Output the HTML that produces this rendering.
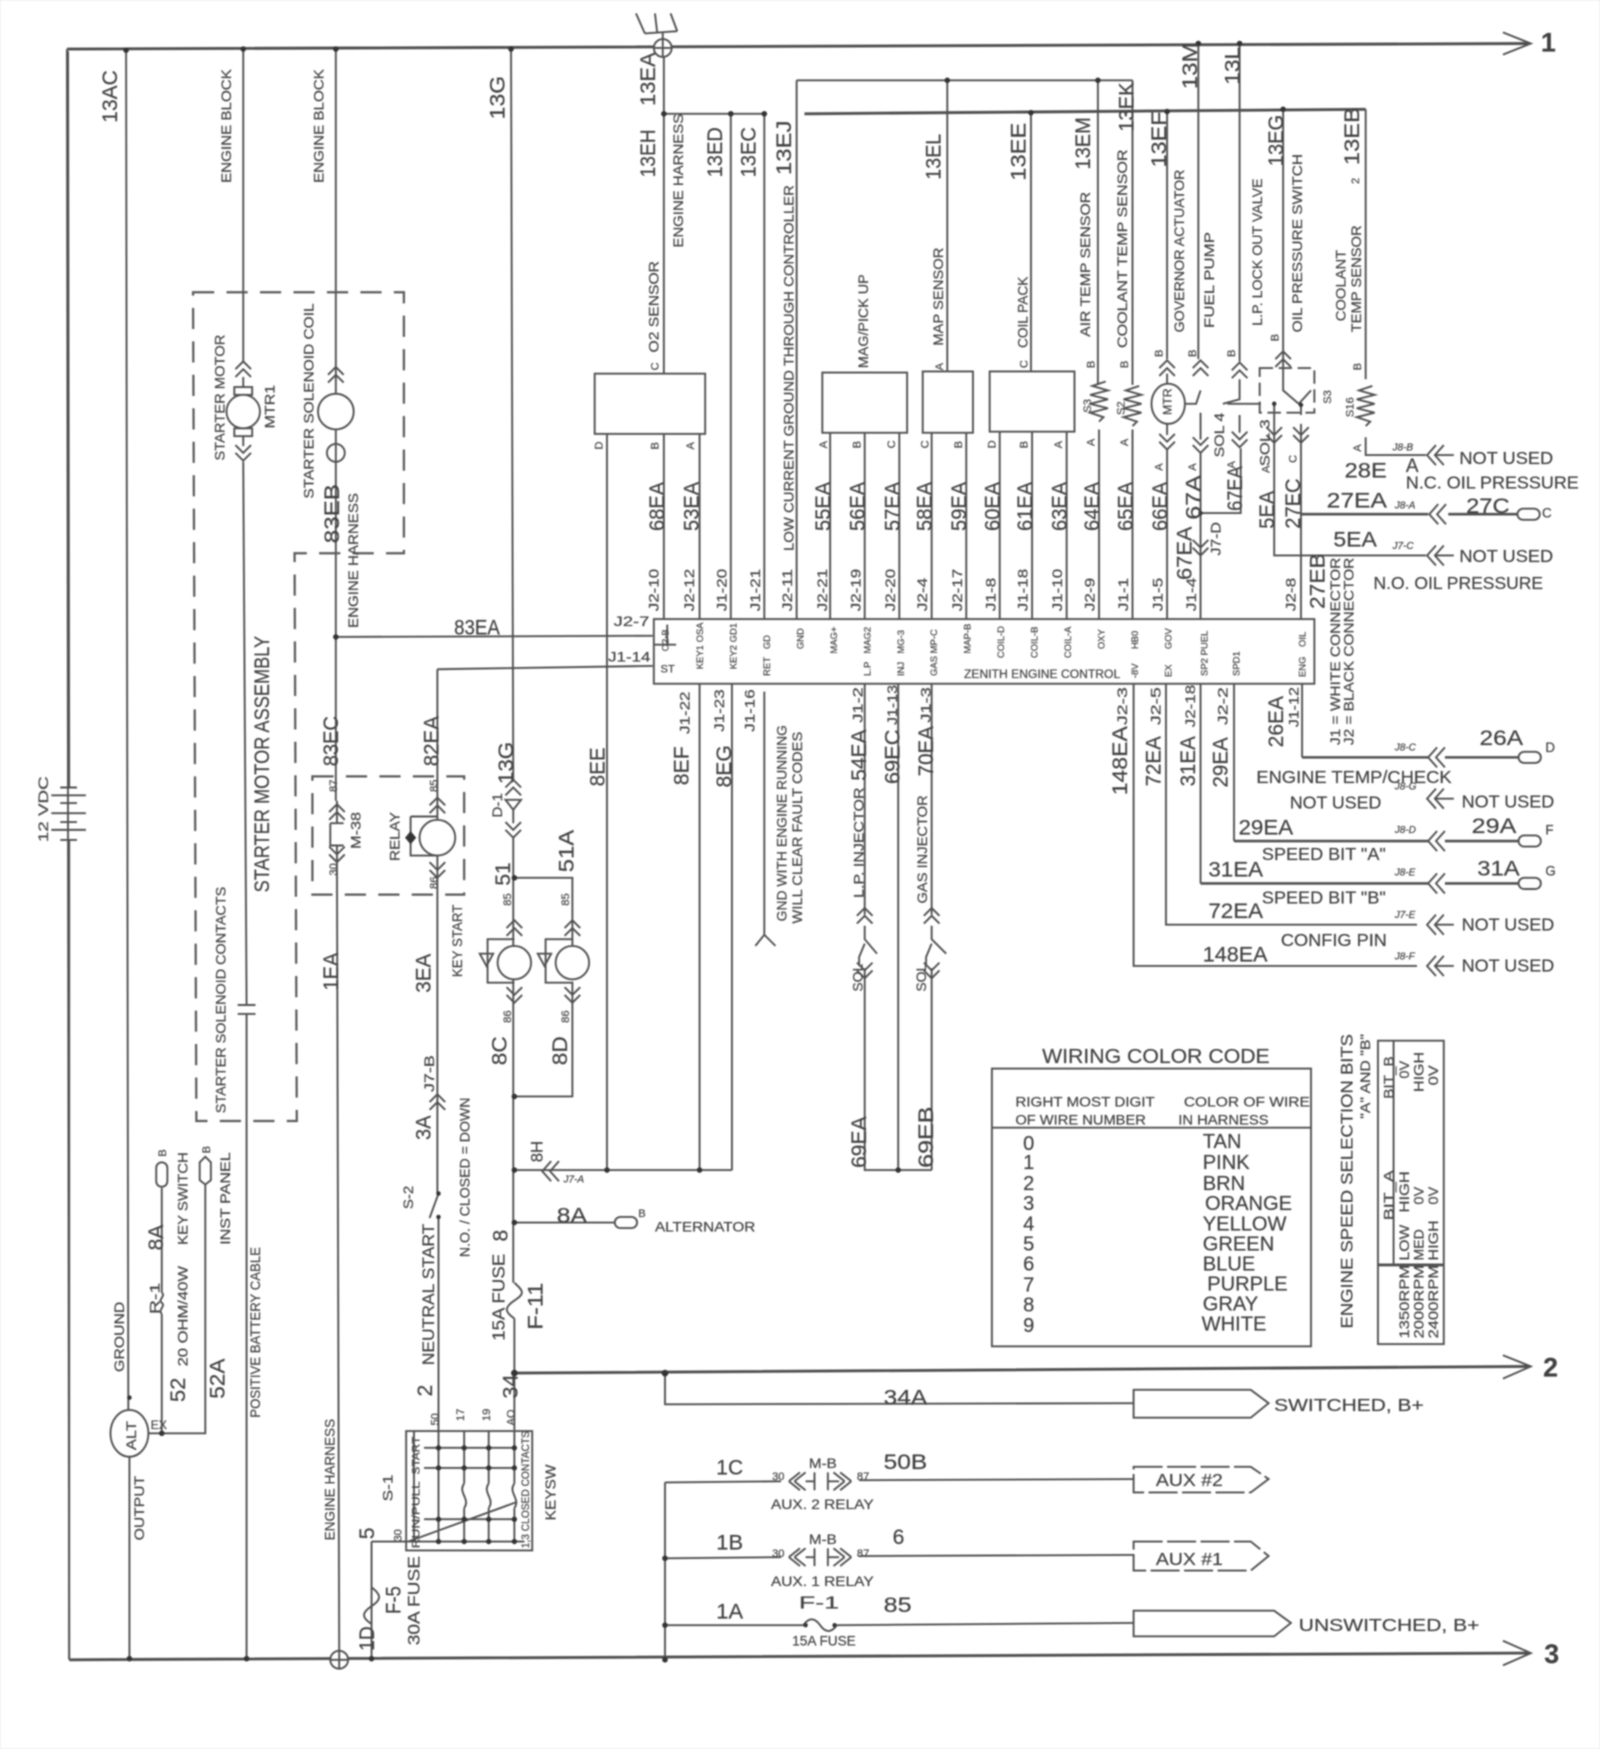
<!DOCTYPE html>
<html><head><meta charset="utf-8"><title>Wiring diagram</title>
<style>
html,body{margin:0;padding:0;background:#fff}
svg{display:block;filter:blur(.7px)}
text{font-family:"Liberation Sans",sans-serif;fill:#404040;stroke:#555;stroke-width:.22}
.w{fill:none;stroke:#505050;stroke-width:1.7}
.t{fill:none;stroke:#505050;stroke-width:2.6}
.m{fill:none;stroke:#505050;stroke-width:2.3}
.f{fill:#fff;stroke:#505050;stroke-width:1.7}
.d{fill:none;stroke:#5a5a5a;stroke-width:2;stroke-dasharray:19 11}
.k{fill:#333;stroke:none}
</style></head><body>
<svg width="1600" height="1749" viewBox="0 0 1434 1568" preserveAspectRatio="none" xmlns="http://www.w3.org/2000/svg">
<defs>
<g id="u" class="w"><path d="M-7 6L0-1 7 6M-7 13L0 6 7 13"/></g>
<g id="v" class="w"><path d="M-7-6L0 1 7-6M-7-13L0-6 7-13"/></g>
<g id="l" class="w"><path d="M6-9L-2 0 6 9M13-9L5 0 13 9"/></g>
<g id="n" class="w"><path d="M2-9L-6 0 2 9M9-9L1 0 9 9M1 0H18"/></g>
<g id="r" class="w"><path d="M-6 0L6-4-6 0 8 4-8 8 8 12-8 16 8 20-8 24 4 28 0 32"/></g>
</defs>
<rect x="0" y="0" width="1434" height="1568" fill="#fff" stroke="#ddd" stroke-width="1"/>

<!-- main buses -->
<path class="t" d="M60 44L1370 39M62 1488L1370 1482M461 1231L1370 1225"/>
<path class="w" d="M60 44L62 1488"/>
<path class="w" stroke-width="2" d="M1347 29L1372 39 1347 49M1347 1215L1372 1225 1347 1236M1347 1471L1372 1482 1347 1493"/>

<!-- left verticals -->
<path class="w" d="M113 45L115 1268M116 1304V1487M218 44V324M218 414L221 901M221 909V1487M301 44V718M302 775L304 1480M458 44L460 699M460 750V1150M461 1182V1282"/>
<path class="w" d="M213 901H229M213 909H229"/>
<path class="d" d="M173 262H362V496H264L266 1005H176Z"/>
<path class="d" d="M280 696H416V802H280Z"/>

<!-- motor / solenoid -->
<use href="#u" x="218" y="325"/><use href="#v" x="218" y="412"/>
<path class="w" d="M218 338V400"/>
<rect class="f" x="210" y="347" width="16" height="7"/><rect class="f" x="210" y="384" width="16" height="7"/>
<circle class="f" cx="218" cy="369" r="15"/>
<use href="#u" x="301" y="330"/>
<circle class="f" cx="301" cy="369" r="16"/><circle class="f" cx="301" cy="406" r="8"/>
<path class="w" d="M301 398V414"/>

<!-- relay region -->
<path class="w" d="M301 571L585 570M392 600L585 597M392 600V1070M393 1091V1283M302 718V738M302 758V775M296 738V758L308 758M296 738H308"/>
<use href="#u" x="302" y="722"/><use href="#v" x="302" y="772"/>
<path class="w" d="M368 732H392M368 732V767H392"/>
<path class="k" d="M368 745L373 751 368 757 363 751Z"/>
<circle class="f" cx="392" cy="751" r="16"/>
<use href="#u" x="392" y="716"/><use href="#v" x="392" y="786"/>
<use href="#u" x="392" y="982"/>
<path class="w" d="M393 1070L385 1092"/>
<circle class="k" cx="393" cy="1070" r="2"/><circle class="k" cx="393" cy="1091" r="2"/>

<!-- D-1 & lamps -->
<use href="#u" x="460" y="700"/><use href="#v" x="460" y="750"/>
<path class="w" d="M453 717H467L460 726Z"/>
<path class="w" d="M460 726V738M461 787H513V848M513 880V983H461M461 1049H656M544 389V1049M627 613V1049M656 613V1049M461 1096H551"/>
<use href="#u" x="461" y="826"/><use href="#v" x="461" y="898"/>
<use href="#u" x="513" y="826"/><use href="#v" x="513" y="898"/>
<path class="w" d="M461 842H437V881H461M513 842H489V881H513"/>
<path class="w" d="M430 855H442L436 866ZM482 855H494L488 866Z"/>
<circle class="f" cx="461" cy="863" r="15"/><circle class="f" cx="513" cy="863" r="15"/>
<use href="#l" x="488" y="1050"/>
<rect class="f" x="551" y="1091" width="20" height="10" rx="5"/>

<!-- top right wires -->
<path class="w" d="M595 44V335M595 389V556M595 102H687M655 102V556M685 102V556M714 72V556M714 72H1015M849 72V333M984 72V345M1015 72V345M924 102V333"/>
<path class="t" d="M721 102L1224 98"/>
<path class="w" d="M1046 100V322M1150 98V330M1224 98V340M1224 392V408H1278M1074 39V322M1111 39V324"/>
<path class="w" d="M627 389V556M744 388V556M775 388V556M806 388V556M835 388V556M866 388V556M896 387V556M925 387V556M956 387V556M985 385V556M1015 385V556M1046 402V556M1076 405V556M1112 402V460H1076M1142 360V498H1278M1166 380V556"/>
<path class="m" d="M1166 461H1280M1298 461H1360"/>
<rect class="f" x="533" y="335" width="99" height="54"/>
<rect class="f" x="737" y="334" width="76" height="54"/>
<rect class="f" x="827" y="333" width="45" height="55"/>
<rect class="f" x="887" y="333" width="76" height="54"/>
<use href="#r" x="985" y="346"/><use href="#r" x="1015" y="350"/><use href="#r" x="1224" y="350"/>
<use href="#u" x="1046" y="324"/><use href="#v" x="1046" y="402"/>
<path class="w" d="M1046 335V390"/>
<ellipse class="f" cx="1047" cy="362" rx="15" ry="18"/>
<use href="#u" x="1076" y="324"/><use href="#v" x="1076" y="405"/>
<path class="w" d="M1062 362H1072L1076 350M1076 370V394"/>
<use href="#u" x="1111" y="326"/><use href="#v" x="1111" y="400"/>
<path class="w" d="M1111 340V358L1096 362M1100 362H1130M1111 372V388"/>
<path class="w" stroke-dasharray="12 5" d="M1129 330H1178V370H1129Z"/>
<use href="#u" x="1150" y="316"/>
<path class="w" d="M1150 330V350L1164 362 1175 350M1166 362V372"/>
<use href="#v" x="1142" y="396"/><use href="#v" x="1166" y="396"/>
<circle class="k" cx="1142" cy="362" r="2"/><circle class="k" cx="1166" cy="363" r="2"/>
<use href="#v" x="1076" y="497"/>

<!-- antenna/ground at top -->
<path class="w" d="M570 12L578 30M587 12L589 29M601 12L607 28M578 30L607 28"/>
<circle class="f" cx="594" cy="43" r="8"/><path class="w" d="M586 43H602M594 29V51"/>

<!-- ECM -->
<rect class="f" x="586" y="555" width="592" height="58" stroke-width="2.2"/>
<path class="w" d="M586 578L606 578M598 560V578"/>

<!-- lower ECM wires -->
<path class="w" d="M685 620V838M677 848L685 838 695 848M775 613V820M775 868V1049H835M805 613V1049M835 613V820M835 868V1049M1016 613V866H1270M1045 613V829H1270M1076 613V792M1106 613V754M1167 613V679"/>
<path class="m" d="M1076 792H1280M1106 754H1280M1167 679H1280M1295 679H1361M1295 754H1361M1295 792H1361"/>
<use href="#n" x="1285" y="408"/>
<use href="#l" x="1283" y="461"/>
<use href="#n" x="1285" y="498"/>
<use href="#l" x="1282" y="679"/>
<use href="#n" x="1285" y="716"/>
<use href="#l" x="1282" y="754"/><use href="#l" x="1282" y="792"/>
<use href="#n" x="1285" y="829"/><use href="#n" x="1285" y="866"/>
<use href="#u" x="775" y="815"/><use href="#v" x="775" y="876"/>
<use href="#u" x="835" y="815"/><use href="#v" x="835" y="876"/>
<path class="w" d="M775 830V842L786 855M775 846L770 858V866M835 830V842L848 855M835 846L830 858V866"/>
<rect class="f" x="1360" y="456" width="20" height="10" rx="5"/>
<rect class="f" x="1361" y="674" width="20" height="10" rx="5"/>
<rect class="f" x="1361" y="749" width="20" height="10" rx="5"/>
<rect class="f" x="1361" y="787" width="20" height="10" rx="5"/>
<circle class="k" cx="1076" cy="460" r="2"/>

<!-- tables -->
<rect class="f" x="889" y="958" width="286" height="249" stroke-width="2"/>
<path class="w" stroke-width="2.2" d="M889 1011H1175"/>
<rect class="f" x="1235" y="933" width="59" height="272" stroke-width="2"/>
<path class="w" d="M1249 933V1134"/><path class="t" d="M1235 1134H1294"/>

<!-- lower right -->
<path class="w" d="M596 1231V1259L1017 1258M596 1329V1488M596 1329L700 1328M596 1397L700 1396M596 1457L720 1457M750 1457L1016 1455M770 1327L1016 1326M770 1395L1016 1394"/>
<path class="f" d="M1016 1246H1121L1137 1258 1121 1271H1016Z"/>
<path class="f" stroke-dasharray="26 4" d="M1016 1315H1121L1137 1326 1121 1338H1016Z"/>
<path class="f" stroke-dasharray="26 4" d="M1016 1382H1121L1137 1395 1121 1408H1016Z"/>
<path class="f" d="M1016 1444H1142L1157 1455 1142 1467H1016Z"/>
<path class="w" d="M707 1328L717 1320M707 1328L717 1336M712 1328L722 1320M712 1328L722 1336M722 1328H730M730 1320V1336M742 1320V1336M742 1328H752M763 1328L753 1320M763 1328L753 1336M757 1328L747 1320M757 1328L747 1336"/>
<path class="w" d="M707 1396L717 1388M707 1396L717 1404M712 1396L722 1388M712 1396L722 1404M722 1396H730M730 1388V1404M742 1388V1404M742 1396H752M763 1396L753 1388M763 1396L753 1404M757 1396L747 1388M757 1396L747 1404"/>
<path class="w" d="M720 1457C725 1450 730 1450 735 1457S745 1464 750 1457"/>

<!-- left-bottom -->
<ellipse class="f" cx="116" cy="1285" rx="17" ry="21"/>
<path class="w" d="M133 1285H184V1058M145 1285V1178M145 1159V1065"/>
<path class="w" d="M145 1159C149 1162 141 1165 145 1168S141 1174 145 1178"/>
<rect class="f" x="140" y="1042" width="10" height="22" rx="5"/>
<path class="f" d="M184 1037L189 1042V1058L184 1062 179 1058V1042Z"/>
<path class="w" d="M333 1382V1456M333 1423C342 1430 342 1434 333 1440S324 1450 333 1456M333 1382H366M333 1456V1488"/>
<circle class="f" cx="304" cy="1488" r="8"/><path class="w" d="M296 1488H312M304 1480V1496"/>
<path class="w" d="M461 1150C470 1158 470 1160 461 1166S452 1176 461 1182"/>

<!-- key switch -->
<path class="w" d="M364 1283H477V1390H364ZM371 1283V1382M393 1283V1382M416 1283V1330M416 1352V1382M438 1283V1330M438 1352V1382M461 1283V1330M461 1352V1382M380 1298H461M380 1316H461M380 1362H461M366 1382H470M366 1382L462 1347M416 1330C410 1338 422 1344 416 1352M438 1330C432 1338 444 1344 438 1352M461 1330C455 1338 467 1344 461 1352"/>
<g class="k"><circle cx="393" cy="1298" r="2.4"/><circle cx="416" cy="1298" r="2.4"/><circle cx="438" cy="1298" r="2.4"/><circle cx="461" cy="1298" r="2.4"/><circle cx="393" cy="1316" r="2.4"/><circle cx="416" cy="1316" r="2.4"/><circle cx="438" cy="1316" r="2.4"/><circle cx="461" cy="1316" r="2.4"/><circle cx="393" cy="1362" r="2.4"/><circle cx="416" cy="1362" r="2.4"/><circle cx="438" cy="1362" r="2.4"/><circle cx="461" cy="1362" r="2.4"/><circle cx="393" cy="1382" r="2.4"/><circle cx="416" cy="1382" r="2.4"/><circle cx="438" cy="1382" r="2.4"/><circle cx="461" cy="1382" r="2.4"/></g>

<!-- battery -->
<path class="w" d="M61 46L62 706M62 753V1487"/>
<path class="w" stroke-width="2" d="M54 706H69M46 713H77M54 720H69M46 729H77M54 737H69M46 744H77M54 753H69"/>

<!-- dots -->
<g class="k"><circle cx="113" cy="45" r="2.5"/><circle cx="218" cy="44" r="2.5"/><circle cx="301" cy="44" r="2.5"/><circle cx="458" cy="44" r="2.5"/><circle cx="1074" cy="39" r="2.5"/><circle cx="1111" cy="39" r="2.5"/><circle cx="595" cy="102" r="2.5"/><circle cx="655" cy="102" r="2.5"/><circle cx="685" cy="102" r="2.5"/><circle cx="849" cy="72" r="2.5"/><circle cx="984" cy="72" r="2.5"/><circle cx="924" cy="101" r="2.5"/><circle cx="1046" cy="100" r="2.5"/><circle cx="1150" cy="98" r="2.5"/><circle cx="301" cy="571" r="2.5"/><circle cx="461" cy="787" r="2.5"/><circle cx="461" cy="983" r="2.5"/><circle cx="461" cy="1049" r="2.5"/><circle cx="461" cy="1096" r="2.5"/><circle cx="544" cy="1049" r="2.5"/><circle cx="627" cy="1049" r="2.5"/><circle cx="805" cy="1049" r="2.5"/><circle cx="461" cy="1231" r="3"/><circle cx="596" cy="1231" r="3"/><circle cx="596" cy="1397" r="2.5"/><circle cx="596" cy="1457" r="2.5"/><circle cx="596" cy="1488" r="2.5"/><circle cx="116" cy="1487" r="2.5"/><circle cx="221" cy="1487" r="2.5"/><circle cx="333" cy="1487" r="2.5"/><circle cx="116" cy="1253" r="2"/><circle cx="145" cy="1285" r="2.5"/><circle cx="722" cy="1457" r="2"/><circle cx="748" cy="1457" r="2"/></g>

<!-- rotated large labels -->
<g font-size="19">
<text transform="translate(105,110)rotate(-90)" textLength="47" lengthAdjust="spacingAndGlyphs">13AC</text>
<text transform="translate(452,107)rotate(-90)" textLength="39" lengthAdjust="spacingAndGlyphs">13G</text>
<text transform="translate(587,95)rotate(-90)" textLength="48" lengthAdjust="spacingAndGlyphs">13EA</text>
<text transform="translate(587,159)rotate(-90)" textLength="43" lengthAdjust="spacingAndGlyphs">13EH</text>
<text transform="translate(647,159)rotate(-90)" textLength="45" lengthAdjust="spacingAndGlyphs">13ED</text>
<text transform="translate(677,159)rotate(-90)" textLength="45" lengthAdjust="spacingAndGlyphs">13EC</text>
<text transform="translate(709,157)rotate(-90)" textLength="49" lengthAdjust="spacingAndGlyphs">13EJ</text>
<text transform="translate(843,161)rotate(-90)" textLength="41" lengthAdjust="spacingAndGlyphs">13EL</text>
<text transform="translate(919,162)rotate(-90)" textLength="52" lengthAdjust="spacingAndGlyphs">13EE</text>
<text transform="translate(977,152)rotate(-90)" textLength="47" lengthAdjust="spacingAndGlyphs">13EM</text>
<text transform="translate(1016,118)rotate(-90)" textLength="44" lengthAdjust="spacingAndGlyphs">13EK</text>
<text transform="translate(1045,150)rotate(-90)" textLength="50" lengthAdjust="spacingAndGlyphs">13EF</text>
<text transform="translate(1073,80)rotate(-90)" textLength="42" lengthAdjust="spacingAndGlyphs">13M</text>
<text transform="translate(1111,76)rotate(-90)" textLength="34" lengthAdjust="spacingAndGlyphs">13L</text>
<text transform="translate(1150,149)rotate(-90)" textLength="46" lengthAdjust="spacingAndGlyphs">13EG</text>
<text transform="translate(1218,148)rotate(-90)" textLength="52" lengthAdjust="spacingAndGlyphs">13EB</text>
<text transform="translate(595,476)rotate(-90)" textLength="44" lengthAdjust="spacingAndGlyphs">68EA</text>
<text transform="translate(626,476)rotate(-90)" textLength="44" lengthAdjust="spacingAndGlyphs">53EA</text>
<text transform="translate(744,476)rotate(-90)" textLength="44" lengthAdjust="spacingAndGlyphs">55EA</text>
<text transform="translate(775,476)rotate(-90)" textLength="44" lengthAdjust="spacingAndGlyphs">56EA</text>
<text transform="translate(806,476)rotate(-90)" textLength="44" lengthAdjust="spacingAndGlyphs">57EA</text>
<text transform="translate(835,476)rotate(-90)" textLength="44" lengthAdjust="spacingAndGlyphs">58EA</text>
<text transform="translate(866,476)rotate(-90)" textLength="44" lengthAdjust="spacingAndGlyphs">59EA</text>
<text transform="translate(896,476)rotate(-90)" textLength="44" lengthAdjust="spacingAndGlyphs">60EA</text>
<text transform="translate(925,476)rotate(-90)" textLength="44" lengthAdjust="spacingAndGlyphs">61EA</text>
<text transform="translate(956,476)rotate(-90)" textLength="44" lengthAdjust="spacingAndGlyphs">63EA</text>
<text transform="translate(985,476)rotate(-90)" textLength="44" lengthAdjust="spacingAndGlyphs">64EA</text>
<text transform="translate(1015,476)rotate(-90)" textLength="44" lengthAdjust="spacingAndGlyphs">65EA</text>
<text transform="translate(1046,476)rotate(-90)" textLength="44" lengthAdjust="spacingAndGlyphs">66EA</text>
<text transform="translate(1076,466)rotate(-90)" textLength="40" lengthAdjust="spacingAndGlyphs">67A</text>
<text transform="translate(1068,520)rotate(-90)" textLength="48" lengthAdjust="spacingAndGlyphs">67EA</text>
<text transform="translate(1113,458)rotate(-90)" textLength="40" lengthAdjust="spacingAndGlyphs">67EA</text>
<text transform="translate(1142,474)rotate(-90)" textLength="34" lengthAdjust="spacingAndGlyphs">5EA</text>
<text transform="translate(1165,474)rotate(-90)" textLength="45" lengthAdjust="spacingAndGlyphs">27EC</text>
<text transform="translate(1187,546)rotate(-90)" textLength="50" lengthAdjust="spacingAndGlyphs">27EB</text>
<text transform="translate(304,487)rotate(-90)" textLength="53" lengthAdjust="spacingAndGlyphs">83EB</text>
<text transform="translate(303,687)rotate(-90)" textLength="45" lengthAdjust="spacingAndGlyphs">83EC</text>
<text transform="translate(393,687)rotate(-90)" textLength="45" lengthAdjust="spacingAndGlyphs">82EA</text>
<text transform="translate(303,888)rotate(-90)" textLength="34" lengthAdjust="spacingAndGlyphs">1EA</text>
<text transform="translate(386,890)rotate(-90)" textLength="35" lengthAdjust="spacingAndGlyphs">3EA</text>
<text transform="translate(460,703)rotate(-90)" textLength="38" lengthAdjust="spacingAndGlyphs">13G</text>
<text transform="translate(457,794)rotate(-90)" textLength="21" lengthAdjust="spacingAndGlyphs">51</text>
<text transform="translate(514,782)rotate(-90)" textLength="38" lengthAdjust="spacingAndGlyphs">51A</text>
<text transform="translate(454,955)rotate(-90)" textLength="26" lengthAdjust="spacingAndGlyphs">8C</text>
<text transform="translate(508,955)rotate(-90)" textLength="26" lengthAdjust="spacingAndGlyphs">8D</text>
<text transform="translate(386,1022)rotate(-90)" textLength="22" lengthAdjust="spacingAndGlyphs">3A</text>
<text transform="translate(617,704)rotate(-90)" textLength="35" lengthAdjust="spacingAndGlyphs">8EF</text>
<text transform="translate(655,706)rotate(-90)" textLength="38" lengthAdjust="spacingAndGlyphs">8EG</text>
<text transform="translate(542,705)rotate(-90)" textLength="35" lengthAdjust="spacingAndGlyphs">8EE</text>
<text transform="translate(776,700)rotate(-90)" textLength="46" lengthAdjust="spacingAndGlyphs">54EA</text>
<text transform="translate(806,703)rotate(-90)" textLength="49" lengthAdjust="spacingAndGlyphs">69EC</text>
<text transform="translate(836,696)rotate(-90)" textLength="45" lengthAdjust="spacingAndGlyphs">70EA</text>
<text transform="translate(1010,713)rotate(-90)" textLength="62" lengthAdjust="spacingAndGlyphs">148EA</text>
<text transform="translate(1040,705)rotate(-90)" textLength="45" lengthAdjust="spacingAndGlyphs">72EA</text>
<text transform="translate(1071,705)rotate(-90)" textLength="45" lengthAdjust="spacingAndGlyphs">31EA</text>
<text transform="translate(1100,706)rotate(-90)" textLength="45" lengthAdjust="spacingAndGlyphs">29EA</text>
<text transform="translate(1150,670)rotate(-90)" textLength="46" lengthAdjust="spacingAndGlyphs">26EA</text>
<text transform="translate(776,1047)rotate(-90)" textLength="46" lengthAdjust="spacingAndGlyphs">69EA</text>
<text transform="translate(836,1047)rotate(-90)" textLength="55" lengthAdjust="spacingAndGlyphs">69EB</text>
<text transform="translate(146,1121)rotate(-90)" textLength="23" lengthAdjust="spacingAndGlyphs">8A</text>
<text transform="translate(166,1257)rotate(-90)" textLength="22" lengthAdjust="spacingAndGlyphs">52</text>
<text transform="translate(201,1254)rotate(-90)" textLength="36" lengthAdjust="spacingAndGlyphs">52A</text>
<text transform="translate(387,1252)rotate(-90)">2</text>
<text transform="translate(455,1113)rotate(-90)">8</text>
<text transform="translate(486,1192)rotate(-90)" textLength="42" lengthAdjust="spacingAndGlyphs">F-11</text>
<text transform="translate(464,1254)rotate(-90)" textLength="22" lengthAdjust="spacingAndGlyphs">34</text>
<text transform="translate(335,1380)rotate(-90)">5</text>
<text transform="translate(335,1480)rotate(-90)" textLength="22" lengthAdjust="spacingAndGlyphs">1D</text>
<text transform="translate(359,1447)rotate(-90)" textLength="25" lengthAdjust="spacingAndGlyphs">F-5</text>
<text transform="translate(241,800)rotate(-90)" textLength="230" lengthAdjust="spacingAndGlyphs">STARTER MOTOR ASSEMBLY</text>
</g>

<!-- rotated small labels -->
<g font-size="12.5">
<text transform="translate(207,164)rotate(-90)" textLength="102" lengthAdjust="spacingAndGlyphs">ENGINE BLOCK</text>
<text transform="translate(290,164)rotate(-90)" textLength="102" lengthAdjust="spacingAndGlyphs">ENGINE BLOCK</text>
<text transform="translate(612,222)rotate(-90)" textLength="120" lengthAdjust="spacingAndGlyphs">ENGINE HARNESS</text>
<text transform="translate(711,494)rotate(-90)" textLength="328" lengthAdjust="spacingAndGlyphs">LOW CURRENT GROUND THROUGH  CONTROLLER</text>
<text transform="translate(590,316)rotate(-90)" textLength="82" lengthAdjust="spacingAndGlyphs">O2 SENSOR</text>
<text transform="translate(778,330)rotate(-90)" textLength="84" lengthAdjust="spacingAndGlyphs">MAG/PICK UP</text>
<text transform="translate(845,310)rotate(-90)" textLength="88" lengthAdjust="spacingAndGlyphs">MAP SENSOR</text>
<text transform="translate(921,312)rotate(-90)" textLength="64" lengthAdjust="spacingAndGlyphs">COIL PACK</text>
<text transform="translate(977,302)rotate(-90)" textLength="130" lengthAdjust="spacingAndGlyphs">AIR  TEMP SENSOR</text>
<text transform="translate(1010,312)rotate(-90)" textLength="178" lengthAdjust="spacingAndGlyphs">COOLANT TEMP SENSOR</text>
<text transform="translate(1061,298)rotate(-90)" textLength="146" lengthAdjust="spacingAndGlyphs">GOVERNOR ACTUATOR</text>
<text transform="translate(1088,294)rotate(-90)" textLength="86" lengthAdjust="spacingAndGlyphs">FUEL PUMP</text>
<text transform="translate(1131,292)rotate(-90)" textLength="132" lengthAdjust="spacingAndGlyphs">L.P. LOCK OUT VALVE</text>
<text transform="translate(1167,298)rotate(-90)" textLength="160" lengthAdjust="spacingAndGlyphs">OIL PRESSURE SWITCH</text>
<text transform="translate(1206,288)rotate(-90)" textLength="64" lengthAdjust="spacingAndGlyphs">COOLANT</text>
<text transform="translate(1220,298)rotate(-90)" textLength="96" lengthAdjust="spacingAndGlyphs">TEMP SENSOR</text>
<text transform="translate(1097,410)rotate(-90)" textLength="40" lengthAdjust="spacingAndGlyphs">SOL 4</text>
<text transform="translate(1138,418)rotate(-90)" textLength="42" lengthAdjust="spacingAndGlyphs">SOL 3</text>
<text transform="translate(705,826)rotate(-90)" textLength="176" lengthAdjust="spacingAndGlyphs">GND WITH ENGINE RUNNING</text>
<text transform="translate(719,828)rotate(-90)" textLength="172" lengthAdjust="spacingAndGlyphs">WILL CLEAR FAULT CODES</text>
<text transform="translate(774,805)rotate(-90)" textLength="99" lengthAdjust="spacingAndGlyphs">L.P. INJECTOR</text>
<text transform="translate(831,810)rotate(-90)" textLength="97" lengthAdjust="spacingAndGlyphs">GAS INJECTOR</text>
<text transform="translate(773,889)rotate(-90)" textLength="25" lengthAdjust="spacingAndGlyphs">SOL</text>
<text transform="translate(830,889)rotate(-90)" textLength="25" lengthAdjust="spacingAndGlyphs">SOL</text>
<text transform="translate(1201,668)rotate(-90)" textLength="168" lengthAdjust="spacingAndGlyphs">J1 = WHITE CONNECTOR</text>
<text transform="translate(1213,668)rotate(-90)" textLength="168" lengthAdjust="spacingAndGlyphs">J2 = BLACK CONNECTOR</text>
<text transform="translate(43,755)rotate(-90)" textLength="59" lengthAdjust="spacingAndGlyphs">12 VDC</text>
<text transform="translate(202,998)rotate(-90)" textLength="203" lengthAdjust="spacingAndGlyphs">STARTER SOLENOID CONTACTS</text>
<text transform="translate(201,413)rotate(-90)" textLength="113" lengthAdjust="spacingAndGlyphs">STARTER MOTOR</text>
<text transform="translate(246,384)rotate(-90)" textLength="39" lengthAdjust="spacingAndGlyphs">MTR1</text>
<text transform="translate(281,447)rotate(-90)" textLength="175" lengthAdjust="spacingAndGlyphs">STARTER SOLENOID COIL</text>
<text transform="translate(321,563)rotate(-90)" textLength="121" lengthAdjust="spacingAndGlyphs">ENGINE HARNESS</text>
<text transform="translate(414,876)rotate(-90)" textLength="65" lengthAdjust="spacingAndGlyphs">KEY START</text>
<text transform="translate(358,772)rotate(-90)" textLength="44" lengthAdjust="spacingAndGlyphs">RELAY</text>
<text transform="translate(323,761)rotate(-90)" textLength="33" lengthAdjust="spacingAndGlyphs">M-38</text>
<text transform="translate(450,733)rotate(-90)" textLength="22" lengthAdjust="spacingAndGlyphs">D-1</text>
<text transform="translate(389,979)rotate(-90)" textLength="33" lengthAdjust="spacingAndGlyphs">J7-B</text>
<text transform="translate(421,1127)rotate(-90)" textLength="143" lengthAdjust="spacingAndGlyphs">N.O. / CLOSED = DOWN</text>
<text transform="translate(370,1084)rotate(-90)" textLength="21" lengthAdjust="spacingAndGlyphs">S-2</text>
<text transform="translate(389,1224)rotate(-90)" textLength="127" lengthAdjust="spacingAndGlyphs" font-size="15">NEUTRAL START</text>
<text transform="translate(452,1202)rotate(-90)" textLength="78" lengthAdjust="spacingAndGlyphs" font-size="16">15A FUSE</text>
<text transform="translate(352,1346)rotate(-90)" textLength="24" lengthAdjust="spacingAndGlyphs">S-1</text>
<text transform="translate(376,1475)rotate(-90)" textLength="80" lengthAdjust="spacingAndGlyphs" font-size="15">30A FUSE</text>
<text transform="translate(498,1363)rotate(-90)" textLength="50" lengthAdjust="spacingAndGlyphs" font-size="13">KEYSW</text>
<text transform="translate(300,1381)rotate(-90)" textLength="109" lengthAdjust="spacingAndGlyphs">ENGINE HARNESS</text>
<text transform="translate(233,1271)rotate(-90)" textLength="153" lengthAdjust="spacingAndGlyphs">POSITIVE BATTERY CABLE</text>
<text transform="translate(129,1381)rotate(-90)" textLength="58" lengthAdjust="spacingAndGlyphs">OUTPUT</text>
<text transform="translate(111,1230)rotate(-90)" textLength="63" lengthAdjust="spacingAndGlyphs">GROUND</text>
<text transform="translate(143,1178)rotate(-90)" textLength="28" lengthAdjust="spacingAndGlyphs">R-1</text>
<text transform="translate(168,1225)rotate(-90)" textLength="90" lengthAdjust="spacingAndGlyphs">20 OHM/40W</text>
<text transform="translate(168,1116)rotate(-90)" textLength="83" lengthAdjust="spacingAndGlyphs">KEY SWITCH</text>
<text transform="translate(206,1116)rotate(-90)" textLength="83" lengthAdjust="spacingAndGlyphs">INST PANEL</text>
<text transform="translate(122,1300)rotate(-90)" textLength="26" lengthAdjust="spacingAndGlyphs">ALT</text>
<text transform="translate(1212,1191)rotate(-90)" textLength="264" lengthAdjust="spacingAndGlyphs" font-size="15">ENGINE SPEED SELECTION BITS</text>
<text transform="translate(1228,1003)rotate(-90)" textLength="76" lengthAdjust="spacingAndGlyphs">"A"  AND "B"</text>
<text transform="translate(1249,985)rotate(-90)" textLength="38" lengthAdjust="spacingAndGlyphs">BIT_B</text>
<text transform="translate(1249,1094)rotate(-90)" textLength="45" lengthAdjust="spacingAndGlyphs">BIT_A</text>
<text transform="translate(1263,967)rotate(-90)" textLength="16" lengthAdjust="spacingAndGlyphs">0V</text>
<text transform="translate(1276,979)rotate(-90)" textLength="36" lengthAdjust="spacingAndGlyphs">HIGH</text>
<text transform="translate(1289,973)rotate(-90)" textLength="18" lengthAdjust="spacingAndGlyphs">0V</text>
<text transform="translate(1263,1087)rotate(-90)" textLength="37" lengthAdjust="spacingAndGlyphs">HIGH</text>
<text transform="translate(1276,1080)rotate(-90)" textLength="16" lengthAdjust="spacingAndGlyphs">0V</text>
<text transform="translate(1289,1080)rotate(-90)" textLength="16" lengthAdjust="spacingAndGlyphs">0V</text>
<text transform="translate(1263,1130)rotate(-90)" textLength="32" lengthAdjust="spacingAndGlyphs">LOW</text>
<text transform="translate(1276,1130)rotate(-90)" textLength="28" lengthAdjust="spacingAndGlyphs">MED</text>
<text transform="translate(1289,1130)rotate(-90)" textLength="36" lengthAdjust="spacingAndGlyphs">HIGH</text>
<text transform="translate(1263,1200)rotate(-90)" textLength="66" lengthAdjust="spacingAndGlyphs">1350RPM</text>
<text transform="translate(1276,1200)rotate(-90)" textLength="66" lengthAdjust="spacingAndGlyphs">2000RPM</text>
<text transform="translate(1289,1200)rotate(-90)" textLength="66" lengthAdjust="spacingAndGlyphs">2400RPM</text>
<text transform="translate(618,658)rotate(-90)" textLength="38" lengthAdjust="spacingAndGlyphs">J1-22</text>
<text transform="translate(649,656)rotate(-90)" textLength="38" lengthAdjust="spacingAndGlyphs">J1-23</text>
<text transform="translate(676,656)rotate(-90)" textLength="38" lengthAdjust="spacingAndGlyphs">J1-16</text>
<text transform="translate(773,648)rotate(-90)" textLength="32" lengthAdjust="spacingAndGlyphs">J1-2</text>
<text transform="translate(804,650)rotate(-90)" textLength="36" lengthAdjust="spacingAndGlyphs">J1-13</text>
<text transform="translate(834,648)rotate(-90)" textLength="32" lengthAdjust="spacingAndGlyphs">J1-3</text>
<text transform="translate(1010,650)rotate(-90)" textLength="34" lengthAdjust="spacingAndGlyphs">J2-3</text>
<text transform="translate(1040,650)rotate(-90)" textLength="34" lengthAdjust="spacingAndGlyphs">J2-5</text>
<text transform="translate(1071,652)rotate(-90)" textLength="38" lengthAdjust="spacingAndGlyphs">J2-18</text>
<text transform="translate(1100,650)rotate(-90)" textLength="34" lengthAdjust="spacingAndGlyphs">J2-2</text>
<text transform="translate(1164,652)rotate(-90)" textLength="36" lengthAdjust="spacingAndGlyphs">J1-12</text>
<text transform="translate(590,548)rotate(-90)" textLength="38" lengthAdjust="spacingAndGlyphs">J2-10</text>
<text transform="translate(622,548)rotate(-90)" textLength="38" lengthAdjust="spacingAndGlyphs">J2-12</text>
<text transform="translate(651,548)rotate(-90)" textLength="38" lengthAdjust="spacingAndGlyphs">J1-20</text>
<text transform="translate(681,548)rotate(-90)" textLength="38" lengthAdjust="spacingAndGlyphs">J1-21</text>
<text transform="translate(710,548)rotate(-90)" textLength="38" lengthAdjust="spacingAndGlyphs">J2-11</text>
<text transform="translate(741,548)rotate(-90)" textLength="38" lengthAdjust="spacingAndGlyphs">J2-21</text>
<text transform="translate(771,548)rotate(-90)" textLength="38" lengthAdjust="spacingAndGlyphs">J2-19</text>
<text transform="translate(802,548)rotate(-90)" textLength="38" lengthAdjust="spacingAndGlyphs">J2-20</text>
<text transform="translate(831,548)rotate(-90)" textLength="30" lengthAdjust="spacingAndGlyphs">J2-4</text>
<text transform="translate(862,548)rotate(-90)" textLength="38" lengthAdjust="spacingAndGlyphs">J2-17</text>
<text transform="translate(892,548)rotate(-90)" textLength="30" lengthAdjust="spacingAndGlyphs">J1-8</text>
<text transform="translate(921,548)rotate(-90)" textLength="38" lengthAdjust="spacingAndGlyphs">J1-18</text>
<text transform="translate(952,548)rotate(-90)" textLength="38" lengthAdjust="spacingAndGlyphs">J1-10</text>
<text transform="translate(981,548)rotate(-90)" textLength="30" lengthAdjust="spacingAndGlyphs">J2-9</text>
<text transform="translate(1011,548)rotate(-90)" textLength="30" lengthAdjust="spacingAndGlyphs">J1-1</text>
<text transform="translate(1042,548)rotate(-90)" textLength="30" lengthAdjust="spacingAndGlyphs">J1-5</text>
<text transform="translate(1072,548)rotate(-90)" textLength="30" lengthAdjust="spacingAndGlyphs">J1-4</text>
<text transform="translate(1161,548)rotate(-90)" textLength="30" lengthAdjust="spacingAndGlyphs">J2-8</text>
<text transform="translate(1094,498)rotate(-90)" textLength="30" lengthAdjust="spacingAndGlyphs">J7-D</text>
</g>

<!-- tiny rotated pin labels -->
<g font-size="10">
<text transform="translate(590,332)rotate(-90)">C</text><text transform="translate(590,403)rotate(-90)">B</text><text transform="translate(622,403)rotate(-90)">A</text><text transform="translate(540,403)rotate(-90)">D</text>
<text transform="translate(741,402)rotate(-90)">A</text><text transform="translate(771,402)rotate(-90)">B</text><text transform="translate(802,402)rotate(-90)">C</text><text transform="translate(832,402)rotate(-90)">C</text><text transform="translate(862,402)rotate(-90)">B</text><text transform="translate(845,332)rotate(-90)">A</text><text transform="translate(921,330)rotate(-90)">C</text><text transform="translate(892,402)rotate(-90)">D</text><text transform="translate(921,402)rotate(-90)">B</text><text transform="translate(952,402)rotate(-90)">A</text>
<text transform="translate(981,330)rotate(-90)">B</text><text transform="translate(1011,330)rotate(-90)">B</text><text transform="translate(1042,320)rotate(-90)">B</text><text transform="translate(1072,320)rotate(-90)">B</text><text transform="translate(1107,320)rotate(-90)">B</text><text transform="translate(1146,306)rotate(-90)">B</text><text transform="translate(1220,332)rotate(-90)">B</text><text transform="translate(1218,165)rotate(-90)">2</text>
<text transform="translate(981,400)rotate(-90)">A</text><text transform="translate(1011,400)rotate(-90)">A</text><text transform="translate(1042,422)rotate(-90)">A</text><text transform="translate(1072,422)rotate(-90)">A</text><text transform="translate(1107,420)rotate(-90)">A</text><text transform="translate(1138,424)rotate(-90)">A</text><text transform="translate(1162,415)rotate(-90)">C</text><text transform="translate(1220,405)rotate(-90)">A</text>
<text transform="translate(1213,374)rotate(-90)">S16</text><text transform="translate(1193,362)rotate(-90)">S3</text><text transform="translate(978,370)rotate(-90)">S3</text><text transform="translate(1008,372)rotate(-90)">S2</text>
<text transform="translate(1050,372)rotate(-90)" font-size="11">MTR</text>
<text transform="translate(302,710)rotate(-90)">87</text><text transform="translate(302,785)rotate(-90)">30</text><text transform="translate(392,710)rotate(-90)">85</text><text transform="translate(392,797)rotate(-90)">86</text>
<text transform="translate(458,812)rotate(-90)">85</text><text transform="translate(510,812)rotate(-90)">85</text><text transform="translate(458,917)rotate(-90)">86</text><text transform="translate(510,917)rotate(-90)">86</text>
<text transform="translate(393,1278)rotate(-90)">50</text><text transform="translate(416,1274)rotate(-90)">17</text><text transform="translate(439,1274)rotate(-90)">19</text><text transform="translate(461,1278)rotate(-90)">AO</text>
<text transform="translate(360,1382)rotate(-90)">30</text>
<text transform="translate(376,1388)rotate(-90)" textLength="60" lengthAdjust="spacingAndGlyphs">RUN/PULL</text>
<text transform="translate(376,1322)rotate(-90)" textLength="34" lengthAdjust="spacingAndGlyphs">START</text>
<text transform="translate(474,1388)rotate(-90)" textLength="105" lengthAdjust="spacingAndGlyphs">1,3 CLOSED CONTACTS</text>
<text transform="translate(149,1037)rotate(-90)">B</text><text transform="translate(188,1034)rotate(-90)">B</text>
<text transform="translate(486,1042)rotate(-90)" font-size="15">8H</text>
</g>

<!-- ECM inner labels -->
<g font-size="8.5">
<text transform="translate(599,584)rotate(-90)">O2-B</text>
<text transform="translate(630,600)rotate(-90)">KEY1 OSA</text><text transform="translate(660,600)rotate(-90)">KEY2 GD1</text><text transform="translate(690,582)rotate(-90)">GD</text><text transform="translate(690,606)rotate(-90)">RET</text><text transform="translate(720,582)rotate(-90)">GND</text>
<text transform="translate(750,586)rotate(-90)">MAG+</text><text transform="translate(780,586)rotate(-90)">MAG2</text><text transform="translate(780,606)rotate(-90)">L.P</text><text transform="translate(810,586)rotate(-90)">MG-3</text><text transform="translate(810,606)rotate(-90)">INJ</text><text transform="translate(840,606)rotate(-90)">GAS MP-C</text><text transform="translate(870,586)rotate(-90)">MAP-B</text>
<text transform="translate(900,590)rotate(-90)">COIL-D</text><text transform="translate(930,590)rotate(-90)">COIL-B</text><text transform="translate(960,590)rotate(-90)">COIL-A</text><text transform="translate(990,582)rotate(-90)">OXY</text><text transform="translate(1020,582)rotate(-90)">HB0</text><text transform="translate(1020,608)rotate(-90)">-8V</text><text transform="translate(1050,582)rotate(-90)">GOV</text><text transform="translate(1050,607)rotate(-90)">EX</text>
<text transform="translate(1082,606)rotate(-90)">SP2 PUEL</text><text transform="translate(1111,606)rotate(-90)">SPD1</text><text transform="translate(1170,580)rotate(-90)">OIL</text><text transform="translate(1170,607)rotate(-90)">ENG</text>
<text x="592" y="603" font-size="10">ST</text>
<text x="864" y="608" font-size="11" textLength="140" lengthAdjust="spacingAndGlyphs">ZENITH ENGINE CONTROL</text>
</g>

<!-- horizontal labels -->
<g font-size="19">
<text x="407" y="569" textLength="41" lengthAdjust="spacingAndGlyphs">83EA</text>
<text x="1205" y="428" textLength="38" lengthAdjust="spacingAndGlyphs">28E</text>
<text x="1260" y="423" font-size="17">A</text>
<text x="1189" y="455" textLength="54" lengthAdjust="spacingAndGlyphs">27EA</text>
<text x="1314" y="460" textLength="39" lengthAdjust="spacingAndGlyphs">27C</text>
<text x="1195" y="490" textLength="39" lengthAdjust="spacingAndGlyphs">5EA</text>
<text x="1326" y="668" textLength="39" lengthAdjust="spacingAndGlyphs">26A</text>
<text x="1110" y="748" textLength="49" lengthAdjust="spacingAndGlyphs">29EA</text>
<text x="1319" y="747" textLength="40" lengthAdjust="spacingAndGlyphs">29A</text>
<text x="1083" y="786" textLength="49" lengthAdjust="spacingAndGlyphs">31EA</text>
<text x="1324" y="785" textLength="38" lengthAdjust="spacingAndGlyphs">31A</text>
<text x="1083" y="823" textLength="49" lengthAdjust="spacingAndGlyphs">72EA</text>
<text x="1078" y="862" textLength="58" lengthAdjust="spacingAndGlyphs">148EA</text>
<text x="499" y="1096" textLength="27" lengthAdjust="spacingAndGlyphs">8A</text>
<text x="792" y="1259" textLength="39" lengthAdjust="spacingAndGlyphs">34A</text>
<text x="792" y="1317" textLength="39" lengthAdjust="spacingAndGlyphs">50B</text>
<text x="800" y="1384">6</text>
<text x="792" y="1445" textLength="25" lengthAdjust="spacingAndGlyphs">85</text>
<text x="642" y="1322" textLength="24" lengthAdjust="spacingAndGlyphs">1C</text>
<text x="642" y="1389" textLength="24" lengthAdjust="spacingAndGlyphs">1B</text>
<text x="642" y="1451" textLength="24" lengthAdjust="spacingAndGlyphs">1A</text>
</g>
<g font-size="16">
<text x="1308" y="416" textLength="84" lengthAdjust="spacingAndGlyphs">NOT USED</text>
<text x="1308" y="504" textLength="84" lengthAdjust="spacingAndGlyphs">NOT USED</text>
<text x="1310" y="724" textLength="83" lengthAdjust="spacingAndGlyphs">NOT USED</text>
<text x="1310" y="834" textLength="83" lengthAdjust="spacingAndGlyphs">NOT USED</text>
<text x="1310" y="871" textLength="83" lengthAdjust="spacingAndGlyphs">NOT USED</text>
<text x="1156" y="725" textLength="82" lengthAdjust="spacingAndGlyphs">NOT USED</text>
<text x="1260" y="438" textLength="155" lengthAdjust="spacingAndGlyphs">N.C. OIL PRESSURE</text>
<text x="1231" y="528" textLength="152" lengthAdjust="spacingAndGlyphs">N.O. OIL PRESSURE</text>
<text x="1126" y="702" textLength="175" lengthAdjust="spacingAndGlyphs">ENGINE TEMP/CHECK</text>
<text x="1131" y="771" textLength="111" lengthAdjust="spacingAndGlyphs">SPEED BIT "A"</text>
<text x="1131" y="810" textLength="111" lengthAdjust="spacingAndGlyphs">SPEED BIT "B"</text>
<text x="1148" y="848" textLength="95" lengthAdjust="spacingAndGlyphs">CONFIG PIN</text>
<text x="1142" y="1265" textLength="134" lengthAdjust="spacingAndGlyphs">SWITCHED, B+</text>
<text x="1164" y="1462" textLength="162" lengthAdjust="spacingAndGlyphs">UNSWITCHED, B+</text>
<text x="1036" y="1332" textLength="60" lengthAdjust="spacingAndGlyphs">AUX #2</text>
<text x="1036" y="1403" textLength="60" lengthAdjust="spacingAndGlyphs">AUX #1</text>
<text x="716" y="1442" textLength="36" lengthAdjust="spacingAndGlyphs">F-1</text>
</g>
<g font-size="12">
<text x="910" y="992" textLength="125" lengthAdjust="spacingAndGlyphs">RIGHT MOST DIGIT</text>
<text x="910" y="1008" textLength="117" lengthAdjust="spacingAndGlyphs">OF  WIRE NUMBER</text>
<text x="1061" y="992" textLength="113" lengthAdjust="spacingAndGlyphs">COLOR  OF WIRE</text>
<text x="1056" y="1008" textLength="81" lengthAdjust="spacingAndGlyphs">IN HARNESS</text>
<text x="587" y="1104" textLength="90" lengthAdjust="spacingAndGlyphs">ALTERNATOR</text>
<text x="691" y="1353" textLength="92" lengthAdjust="spacingAndGlyphs">AUX. 2 RELAY</text>
<text x="691" y="1422" textLength="92" lengthAdjust="spacingAndGlyphs">AUX. 1 RELAY</text>
<text x="710" y="1475" textLength="57" lengthAdjust="spacingAndGlyphs">15A FUSE</text>
<text x="725" y="1316" textLength="25" lengthAdjust="spacingAndGlyphs">M-B</text>
<text x="725" y="1384" textLength="25" lengthAdjust="spacingAndGlyphs">M-B</text>
<text x="545" y="593" textLength="38" lengthAdjust="spacingAndGlyphs">J1-14</text>
<text x="550" y="561" textLength="32" lengthAdjust="spacingAndGlyphs">J2-7</text>
<text x="572" y="1091" font-size="10">B</text>
<text x="1382" y="464">C</text><text x="1385" y="674">D</text><text x="1385" y="748">F</text><text x="1385" y="785">G</text>
<text x="135" y="1281" font-size="11">EX</text>
<text x="692" y="1327" font-size="10">30</text><text x="768" y="1327" font-size="10">87</text>
<text x="692" y="1396" font-size="10">30</text><text x="768" y="1396" font-size="10">87</text>
</g>
<g font-size="9" font-style="italic">
<text x="1248" y="404">J8-B</text><text x="1250" y="456">J8-A</text><text x="1248" y="492">J7-C</text><text x="1250" y="673">J8-C</text><text x="1250" y="708">J8-G</text><text x="1250" y="747">J8-D</text><text x="1250" y="785">J8-E</text><text x="1250" y="823">J7-E</text><text x="1250" y="860">J8-F</text><text x="505" y="1060">J7-A</text>
</g>
<text x="934" y="953" font-size="18" textLength="204" lengthAdjust="spacingAndGlyphs">WIRING COLOR CODE</text>
<g font-size="18">
<text x="917" y="1031">0</text><text x="917" y="1048">1</text><text x="917" y="1067">2</text><text x="917" y="1085">3</text><text x="917" y="1103">4</text><text x="917" y="1121">5</text><text x="917" y="1139">6</text><text x="917" y="1158">7</text><text x="917" y="1176">8</text><text x="917" y="1194">9</text>
<text x="1078" y="1029">TAN</text><text x="1078" y="1048">PINK</text><text x="1078" y="1067">BRN</text><text x="1080" y="1085">ORANGE</text><text x="1078" y="1103">YELLOW</text><text x="1078" y="1121">GREEN</text><text x="1078" y="1139">BLUE</text><text x="1082" y="1157">PURPLE</text><text x="1078" y="1175">GRAY</text><text x="1077" y="1193">WHITE</text>
</g>
<g font-size="24" font-weight="bold">
<text x="1381" y="46">1</text><text x="1383" y="1234">2</text><text x="1384" y="1491">3</text>
</g>
</svg>
</body></html>
